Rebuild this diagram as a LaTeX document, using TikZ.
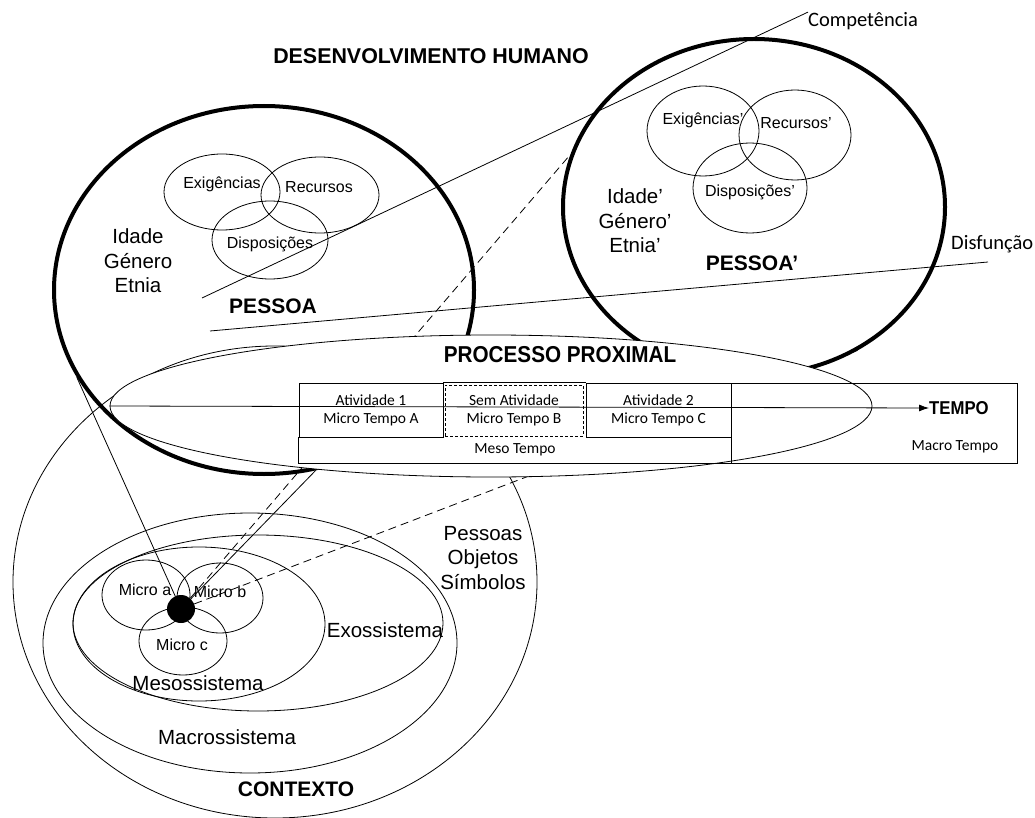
\documentclass[tikz,border=0pt]{standalone}
\usepackage{fontspec}
\setmainfont{Liberation Sans}
\newfontfamily\calfont{Carlito}
\newfontfamily\narrowfont[FakeStretch=0.9]{Liberation Sans}
\usetikzlibrary{shapes.geometric,arrows.meta}

\tikzset{
    wh/.style 2 args={minimum width=#1pt, minimum height=#2pt},
    ring/.style={draw, ellipse, inner sep=0pt, line width=0.8pt},
    thickring/.style={ring, line width=4pt},
    lbl/.style={inner sep=0pt, align=center, font=\fontsize{20.5}{24.5}\selectfont},
    smalllbl/.style={inner sep=0pt, font=\fontsize{16}{19}\selectfont},
    boldlbl/.style={inner sep=0pt, font=\bfseries\fontsize{21}{25}\selectfont},
    callbl/.style={inner sep=0pt, anchor=west, font=\calfont\fontsize{20.5}{24}\selectfont},
    tabfont/.style={inner sep=0pt, align=center, font=\calfont\fontsize{15.5}{18}\selectfont},
    cell/.style={tabfont, draw, line width=0.8pt},
    cone/.style={line width=0.8pt},
    conedash/.style={cone, dash pattern=on 8pt off 5pt}
}

\begin{document}
\begin{tikzpicture}[x = 1pt, y = -1pt]
    \useasboundingbox (0,0) rectangle (1035,818);

    % contexto
    \node[ring, wh={524}{472}] (contexto) at (275,582) {};
    \node[ring, wh={414}{260}] (macro) at (250,643) {};
    \node[ring, wh={370}{176}] (exo) at (258,623) {};
    \node[ring, wh={252}{154}] (meso) at (199,624) {};
    \node[ring, wh={88}{70}] (microa) at (146,595) {};
    \node[ring, wh={86}{70}] (microb) at (220,598) {};
    \node[ring, wh={88}{68}] (microc) at (183,641) {};
    \node[circle, fill=black, minimum size=28pt, inner sep=0pt] (foco) at (181,609) {};

    % pessoas
    \node[thickring, wh={420}{368}] (pessoa) at (264,290) {};
    \node[thickring, wh={382}{336}] (pessoa2) at (754,207) {};
    \node[ring, wh={116}{76}] (exig) at (222,192) {};
    \node[ring, wh={118}{76}] (recur) at (320,195) {};
    \node[ring, wh={116}{78}] (disp) at (270,240) {};
    \node[ring, wh={112}{90}] (exig2) at (703,131) {};
    \node[ring, wh={112}{90}] (recur2) at (795,135) {};
    \node[ring, wh={114}{90}] (disp2) at (750,188) {};

    \draw[cone] (foco) -- (pessoa.205);
    \draw[cone] (foco) -- (pessoa.286);
    \draw[conedash] (foco) -- (pessoa2.164);
    \draw[conedash] (foco) -- (pessoa2.306);

    \node[callbl] (compet) at (808,21) {Competência};
    \node[callbl] (disf) at (951,244) {Disfunção};
    \coordinate (compA) at (202,298);
    \coordinate (disfA) at (210,331);
    \coordinate (disfB) at (988,262);
    \draw[cone] (compA) -- (compet.north west);
    \draw[cone] (disfA) -- (disfB);

    % processo proximal
    \node[ring, fill=white, wh={762}{142}] (processo) at (491,406) {};
    \node[cell, wh={144}{54}] (ativ1) at (371,410) {Atividade 1\\Micro Tempo A};
    \node[cell, dash pattern=on 3pt off 2pt, wh={138}{51}] (semativ) at (514,410.5) {Sem Atividade\\Micro Tempo B};
    \node[cell, wh={145}{54}] (ativ2) at (658.5,410) {Atividade 2\\Micro Tempo C};
    \node[tabfont, wh={432}{26}] (mesot) at (515,450) {Meso Tempo};
    \node[cell, wh={286}{80}] (macrot) at (874,423) {};
    \draw[line width=0.8pt] (ativ1.north east) -- (ativ2.north west);
    \draw[line width=0.8pt] (ativ1.south west) |- (macrot.south west);
    \node[tabfont] (macrolbl) at (955,447) {Macro Tempo};
    \node[anchor=west, inner sep=0pt, font=\narrowfont\bfseries\fontsize{18.6}{22}\selectfont] (tempo) at (929,408) {TEMPO};
    \draw[line width=0.8pt, -{Latex[length=10pt, width=7pt]}] (processo.west) -- (tempo.west);

    % textos
    \node[boldlbl, font=\bfseries\fontsize{21.4}{25}\selectfont] (titulo) at (431,56) {DESENVOLVIMENTO HUMANO};
    \node[inner sep=0pt, font=\narrowfont\bfseries\fontsize{23}{27}\selectfont] (proclbl) at (560,355) {PROCESSO PROXIMAL};
    \node[smalllbl] (exiglbl) at (222,184) {Exigências};
    \node[smalllbl] (recurlbl) at (319,187) {Recursos};
    \node[smalllbl] (displbl) at (270,244) {Disposições};
    \node[lbl] (idadelbl) at (138,261) {Idade\\Género\\Etnia};
    \node[boldlbl] (pessoalbl) at (273,306) {PESSOA};
    \node[smalllbl] (exig2lbl) at (703,120) {Exigências’};
    \node[smalllbl] (recur2lbl) at (796,123) {Recursos’};
    \node[smalllbl] (disp2lbl) at (750,192) {Disposições’};
    \node[lbl] (idade2lbl) at (635,221) {Idade’\\Género’\\Etnia’};
    \node[boldlbl] (pessoa2lbl) at (752,263) {PESSOA’};
    \node[lbl] (pessoaslbl) at (483,558) {Pessoas\\Objetos\\Símbolos};
    \node[smalllbl] (microalbl) at (145,590) {Micro a};
    \node[smalllbl] (microblbl) at (220,592) {Micro b};
    \node[smalllbl] (microclbl) at (182,645) {Micro c};
    \node[lbl] (mesolbl) at (198,683) {Mesossistema};
    \node[lbl] (exolbl) at (385,630) {Exossistema};
    \node[lbl] (macrolbl2) at (227,737) {Macrossistema};
    \node[boldlbl] (contextolbl) at (296,789) {CONTEXTO};
\end{tikzpicture}
\end{document}
